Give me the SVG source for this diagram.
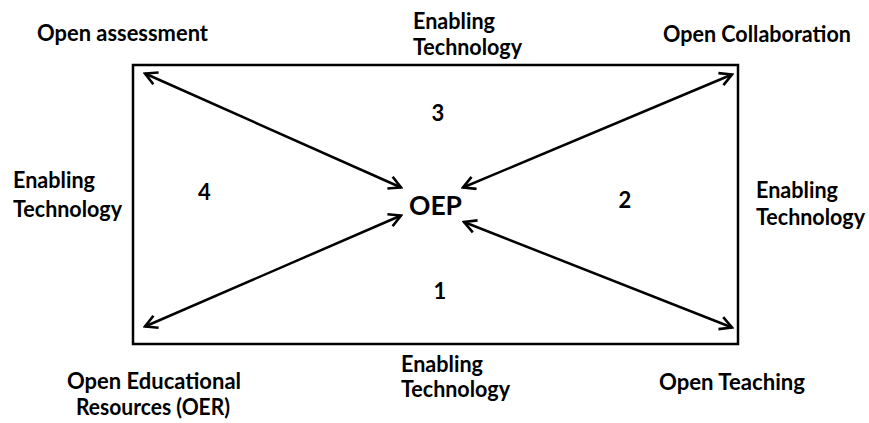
<svg xmlns="http://www.w3.org/2000/svg" width="869" height="423" viewBox="0 0 869 423">
<style>
.t{font-family:Lato,"Open Sans","Liberation Sans",sans-serif;font-weight:bold;font-size:22px;fill:#000}
.big{font-size:27px}
.c{stroke:#000;stroke-width:2.5;fill:none}
</style>
<defs>
<marker id="ah" viewBox="-14 -8 16 16" refX="0" refY="0" markerWidth="16" markerHeight="16" markerUnits="userSpaceOnUse" orient="auto-start-reverse">
<path d="M-12,-6.5 L0,0 L-12,6.5" fill="none" stroke="#000" stroke-width="2.6" stroke-linejoin="miter"/>
</marker>
</defs>
<rect id="frame" x="133" y="65" width="605" height="279" fill="#fff" stroke="#000" stroke-width="2.5"/>
<g id="connectors">
<line class="c" x1="145" y1="73.5" x2="401" y2="187.5" marker-start="url(#ah)" marker-end="url(#ah)"/>
<line class="c" x1="732" y1="74.5" x2="463" y2="187.5" marker-start="url(#ah)" marker-end="url(#ah)"/>
<line class="c" x1="145" y1="326.5" x2="401" y2="215.5" marker-start="url(#ah)" marker-end="url(#ah)"/>
<line class="c" x1="732" y1="327.5" x2="464" y2="222" marker-start="url(#ah)" marker-end="url(#ah)"/>
</g>
<g id="oep"><text class="t big" x="409" y="215" textLength="53" lengthAdjust="spacingAndGlyphs">OEP</text></g>
<g id="open-assessment"><text class="t" x="37" y="41" textLength="171" lengthAdjust="spacingAndGlyphs">Open assessment</text></g>
<g id="open-collaboration"><text class="t" x="663" y="42" textLength="188" lengthAdjust="spacingAndGlyphs">Open Collaboration</text></g>
<g id="oer"><text class="t" x="67" y="389" textLength="174" lengthAdjust="spacingAndGlyphs">Open Educational</text><text class="t" x="76" y="415" textLength="154" lengthAdjust="spacingAndGlyphs">Resources (OER)</text></g>
<g id="open-teaching"><text class="t" x="659" y="390" textLength="146" lengthAdjust="spacingAndGlyphs">Open Teaching</text></g>
<g id="tech-top"><text class="t" x="413" y="29" textLength="82" lengthAdjust="spacingAndGlyphs">Enabling</text><text class="t" x="413" y="55" textLength="109" lengthAdjust="spacingAndGlyphs">Technology</text></g>
<g id="tech-left"><text class="t" x="13" y="188" textLength="82" lengthAdjust="spacingAndGlyphs">Enabling</text><text class="t" x="13" y="217" textLength="109" lengthAdjust="spacingAndGlyphs">Technology</text></g>
<g id="tech-right"><text class="t" x="756" y="198" textLength="82" lengthAdjust="spacingAndGlyphs">Enabling</text><text class="t" x="756" y="225" textLength="109" lengthAdjust="spacingAndGlyphs">Technology</text></g>
<g id="tech-bottom"><text class="t" x="401" y="372" textLength="82" lengthAdjust="spacingAndGlyphs">Enabling</text><text class="t" x="401" y="397" textLength="109" lengthAdjust="spacingAndGlyphs">Technology</text></g>
<g id="n3"><text class="t" x="438" y="121" text-anchor="middle">3</text></g>
<g id="n4"><text class="t" x="204.5" y="200" text-anchor="middle">4</text></g>
<g id="n2"><text class="t" x="625" y="208" text-anchor="middle">2</text></g>
<g id="n1"><text class="t" x="440" y="299" text-anchor="middle">1</text></g>
</svg>
